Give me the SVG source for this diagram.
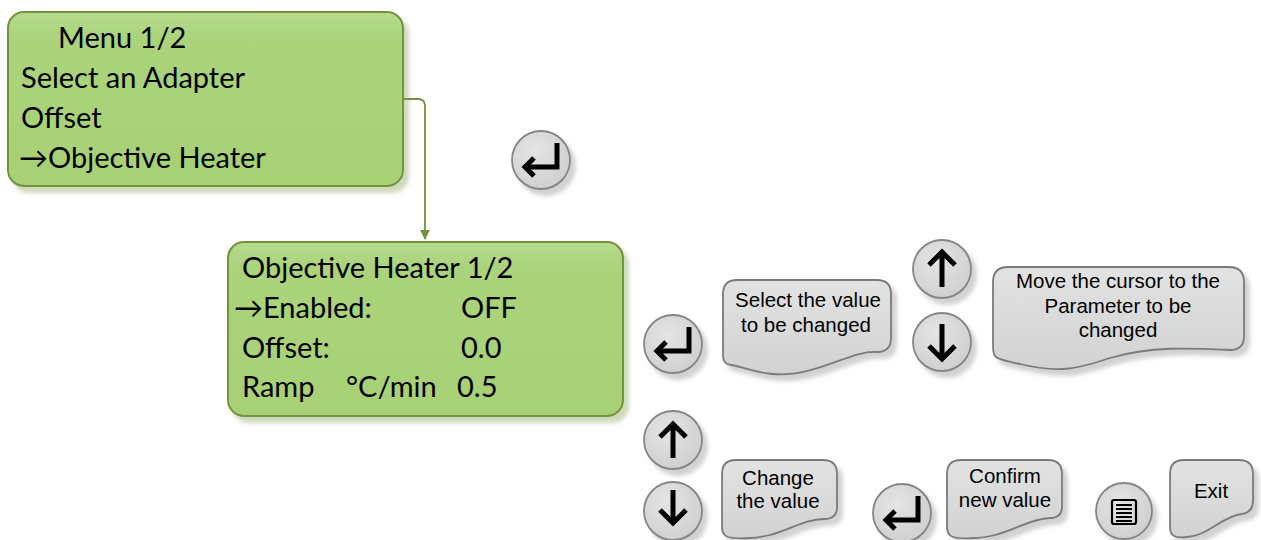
<svg xmlns="http://www.w3.org/2000/svg" width="1261" height="540" viewBox="0 0 1261 540">
<defs>
  <linearGradient id="gGreen" x1="0" y1="0" x2="0" y2="1">
    <stop offset="0" stop-color="#b6db8e"/>
    <stop offset="0.15" stop-color="#aad37b"/>
    <stop offset="1" stop-color="#a8d176"/>
  </linearGradient>
  <radialGradient id="gGrey" cx="0.4" cy="0.35" r="0.75">
    <stop offset="0" stop-color="#e4e4e4"/>
    <stop offset="1" stop-color="#cdcdcd"/>
  </radialGradient>
  <linearGradient id="gCall" x1="0" y1="0" x2="0" y2="1">
    <stop offset="0" stop-color="#e2e2e2"/>
    <stop offset="1" stop-color="#d2d2d2"/>
  </linearGradient>
  <filter id="shGreen" x="-10%" y="-10%" width="125%" height="130%">
    <feGaussianBlur in="SourceAlpha" stdDeviation="2"/>
    <feOffset dx="5" dy="6" result="b"/>
    <feFlood flood-color="#b9c9a0" flood-opacity="0.7"/>
    <feComposite in2="b" operator="in"/>
    <feMerge><feMergeNode/><feMergeNode in="SourceGraphic"/></feMerge>
  </filter>
  <filter id="shGrey" x="-20%" y="-20%" width="150%" height="150%">
    <feGaussianBlur in="SourceAlpha" stdDeviation="2"/>
    <feOffset dx="5" dy="6" result="b"/>
    <feFlood flood-color="#9a9a9a" flood-opacity="0.45"/>
    <feComposite in2="b" operator="in"/>
    <feMerge><feMergeNode/><feMergeNode in="SourceGraphic"/></feMerge>
  </filter>
  <marker id="arr" viewBox="0 0 10 10" refX="9" refY="5" markerWidth="5.5" markerHeight="5.5" orient="auto">
    <path d="M0,0 L10,5 L0,10 Z" fill="#76923c"/>
  </marker>
</defs>
<style>
  .lcd { fill: url(#gGreen); stroke: #76923c; stroke-width: 2; filter: url(#shGreen); }
  .lcdt { font-family: Lato, "Noto Sans", sans-serif; font-size: 29px; fill: #000; }
  .btn { fill: url(#gGrey); stroke: #858585; stroke-width: 1.8; filter: url(#shGrey); }
  .ico { fill: none; stroke: #000; stroke-width: 5; stroke-linecap: butt; stroke-linejoin: miter; }
  .call { fill: url(#gCall); stroke: #7a7a7a; stroke-width: 1.8; filter: url(#shGrey); }
  .ct { font-family: "Liberation Sans", Arial, sans-serif; font-size: 20.5px; fill: #000; text-anchor: middle; }
  .conn { fill: none; stroke: #76923c; stroke-width: 1.8; }
</style>

<g id="menu">
  <rect class="lcd" x="8" y="12" width="395" height="174" rx="16"/>
  <text class="lcdt" x="58" y="48">Menu 1/2</text>
  <text class="lcdt" x="21" y="88">Select an Adapter</text>
  <text class="lcdt" x="21" y="128">Offset</text>
  <text class="lcdt" x="19" y="168">→Objective Heater</text>
</g>

<g id="objheater">
  <rect class="lcd" x="228" y="242" width="395" height="174" rx="16"/>
  <text class="lcdt" x="242" y="278">Objective Heater 1/2</text>
  <text class="lcdt" x="234" y="318">→Enabled:</text>
  <text class="lcdt" x="461" y="318">OFF</text>
  <text class="lcdt" x="242" y="358">Offset:</text>
  <text class="lcdt" x="461" y="358">0.0</text>
  <text class="lcdt" x="242" y="397">Ramp</text>
  <text class="lcdt" x="346" y="397">°C/min</text>
  <text class="lcdt" x="457" y="397">0.5</text>
</g>

<g id="connectors">
  <path class="conn" d="M403,99 H418 Q425,99 425,106 V239" marker-end="url(#arr)"/>
</g>

<g id="enter1">
  <circle class="btn" cx="541" cy="160" r="29"/>
  <path class="ico" d="M557,143 V167 H527"/>
  <path class="ico" d="M534,158 L525,167 L534,176"/>
</g>

<g id="enter2">
  <circle class="btn" cx="673" cy="344" r="29"/>
  <path class="ico" d="M689,327 V351 H659"/>
  <path class="ico" d="M666,342 L657,351 L666,360"/>
</g>

<g id="call-select">
  <path class="call" d="M737,280 H877 Q891,280 891,294 V338 Q891,352 877,352 C850,350 815,378 772,374 C752,372 740,366 731,365 Q723,364 723,356 V294 Q723,280 737,280 Z"/>
  <text class="ct" x="808" y="307">Select the value</text>
  <text class="ct" x="806" y="332">to be changed</text>
</g>

<g id="up1">
  <circle class="btn" cx="942" cy="269" r="29"/>
  <path class="ico" d="M942,287 V253 M929,265 L942,252 L955,265"/>
</g>

<g id="down1">
  <circle class="btn" cx="942" cy="342" r="29"/>
  <path class="ico" d="M942,324 V358 M929,346 L942,359 L955,346"/>
</g>

<g id="call-move">
  <path class="call" d="M1008,267 H1229 Q1244,267 1244,282 V336 Q1244,350 1230,350 C1190,348 1150,346 1110,358 C1080,368 1060,374 1020,364 Q1000,360 996,357 Q993,355 993,345 V282 Q993,267 1008,267 Z"/>
  <text class="ct" x="1118" y="288">Move the cursor to the</text>
  <text class="ct" x="1118" y="313">Parameter to be</text>
  <text class="ct" x="1118" y="337">changed</text>
</g>

<g id="up2">
  <circle class="btn" cx="673" cy="440" r="29"/>
  <path class="ico" d="M673,458 V425 M660,437 L673,424 L686,437"/>
</g>

<g id="down2">
  <circle class="btn" cx="673" cy="511" r="29"/>
  <path class="ico" d="M673,490 V523 M660,510 L673,523 L686,510"/>
</g>

<g id="call-change">
  <path class="call" d="M736,460 H823 Q837,460 837,474 V507 Q837,519 824,519 C805,519 790,530 770,535 C755,539 735,539 728,537 Q722,535 722,527 V474 Q722,460 736,460 Z"/>
  <text class="ct" x="778" y="485">Change</text>
  <text class="ct" x="778" y="508">the value</text>
</g>

<g id="enter3">
  <circle class="btn" cx="902" cy="513" r="29"/>
  <path class="ico" d="M918,496 V520 H888"/>
  <path class="ico" d="M895,511 L886,520 L895,529"/>
</g>

<g id="call-confirm">
  <path class="call" d="M961,460 H1048 Q1062,460 1062,474 V506 Q1062,518 1050,518 C1030,519 1015,530 995,535 C980,539 960,539 953,537 Q947,535 947,527 V474 Q947,460 961,460 Z"/>
  <text class="ct" x="1005" y="483">Confirm</text>
  <text class="ct" x="1005" y="507">new value</text>
</g>

<g id="menubtn">
  <circle class="btn" cx="1124" cy="511" r="28"/>
  <rect x="1112" y="500" width="24" height="24" rx="2" fill="none" stroke="#000" stroke-width="2.2"/>
  <path d="M1116,505 H1132 M1116,509 H1132 M1116,513 H1132 M1116,517 H1132 M1116,521 H1132" stroke="#000" stroke-width="1.8"/>
</g>

<g id="call-exit">
  <path class="call" d="M1184,460 H1239 Q1253,460 1253,474 V500 Q1253,513 1241,514 C1226,516 1215,528 1200,534 C1190,538 1178,538 1174,536 Q1170,534 1170,527 V474 Q1170,460 1184,460 Z"/>
  <text class="ct" x="1211" y="498">Exit</text>
</g>
</svg>
